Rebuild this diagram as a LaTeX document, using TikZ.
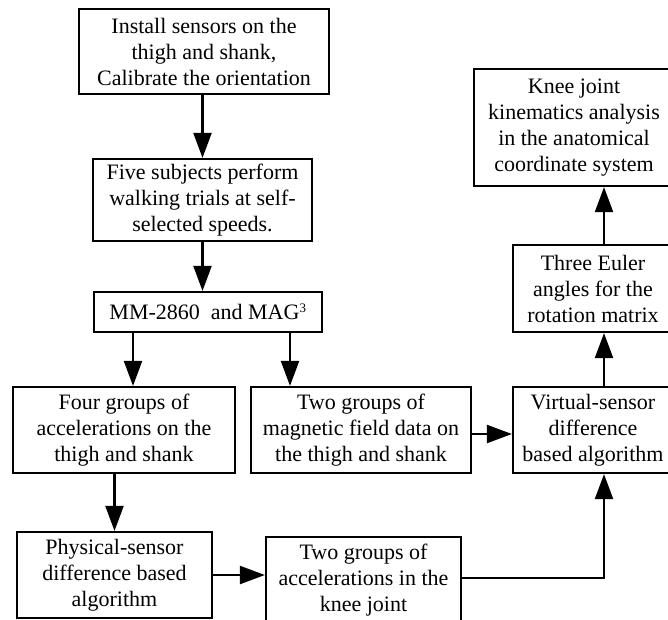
\documentclass[tikz,border=0pt]{standalone}
\usepackage{fontspec}
\setmainfont{Liberation Serif}
\usetikzlibrary{arrows.meta}
\tikzset{
  flowbox/.style={
    draw=black, line width=2.2pt, align=center, inner sep=0pt,
    font=\fontsize{22}{26}\selectfont
  },
  arr/.style={-{Triangle[length=25pt,width=18pt]}, draw=black, line width=2.2pt},
  every picture/.append style={line join=miter}
}
\begin{document}
\begin{tikzpicture}[x=1pt, y=-1pt]
  \useasboundingbox (0,0) rectangle (668,619);
  % left column
  \node[flowbox, minimum width=250pt, minimum height=85pt] (install) at (204,51.5)
    {Install sensors on the\\thigh and shank,\\Calibrate the orientation};
  \node[flowbox, minimum width=219pt, minimum height=82pt] (five) at (202.5,200)
    {Five subjects perform\\walking trials at self-\\selected speeds.};
  \node[flowbox, minimum width=228pt, minimum height=40pt] (mm) at (208,312)
    {MM-2860\ \ and MAG\textsuperscript{\fontsize{13}{13}\selectfont 3}};
  \node[flowbox, minimum width=222pt, minimum height=86pt] (four) at (124,430)
    {Four groups of\\accelerations on the\\thigh and shank};
  \node[flowbox, minimum width=220pt, minimum height=86pt] (mag) at (361,430)
    {Two groups of\\magnetic field data on\\the thigh and shank};
  \node[flowbox, minimum width=195pt, minimum height=86pt] (phys) at (114.5,575)
    {Physical-sensor\\difference based\\algorithm};
  \node[flowbox, minimum width=195pt, minimum height=86pt] (accel) at (363.5,580)
    {Two groups of\\accelerations in the\\knee joint};
  % right column
  \node[flowbox, minimum width=160pt, minimum height=86pt] (virt) at (593,430)
    {Virtual-sensor\\difference\\based algorithm};
  \node[flowbox, minimum width=160pt, minimum height=87pt] (euler) at (593,288.5)
    {Three Euler\\angles for the\\rotation matrix};
  \node[flowbox, minimum width=200pt, minimum height=117pt] (knee) at (574,127.5)
    {Knee joint\\kinematics analysis\\in the anatomical\\coordinate system};
  % connectors
  \draw[arr] (five.north |- install.south) -- (five.north);
  \draw[arr] (five.south) -- (five.south |- mm.north);
  \draw[arr] ([xshift=9pt]four.north |- mm.south) -- ([xshift=9pt]four.north);
  \draw[arr] ([xshift=-71pt]mag.north |- mm.south) -- ([xshift=-71pt]mag.north);
  \draw[arr] (four.south -| phys.north) -- (phys.north);
  \draw[arr] ([yshift=-4pt]mag.east) -- ([yshift=-4pt]virt.west);
  \draw[arr] (phys.east) -- (accel.west |- phys.east);
  \draw[arr] ([yshift=2pt]accel.east) -| ([xshift=11pt]virt.south);
  \draw[arr] ([xshift=11pt]virt.north) -- ([xshift=11pt]euler.south);
  \draw[arr] ([xshift=11pt]euler.north) -- ([xshift=11pt]euler.north |- knee.south);
\end{tikzpicture}
\end{document}
